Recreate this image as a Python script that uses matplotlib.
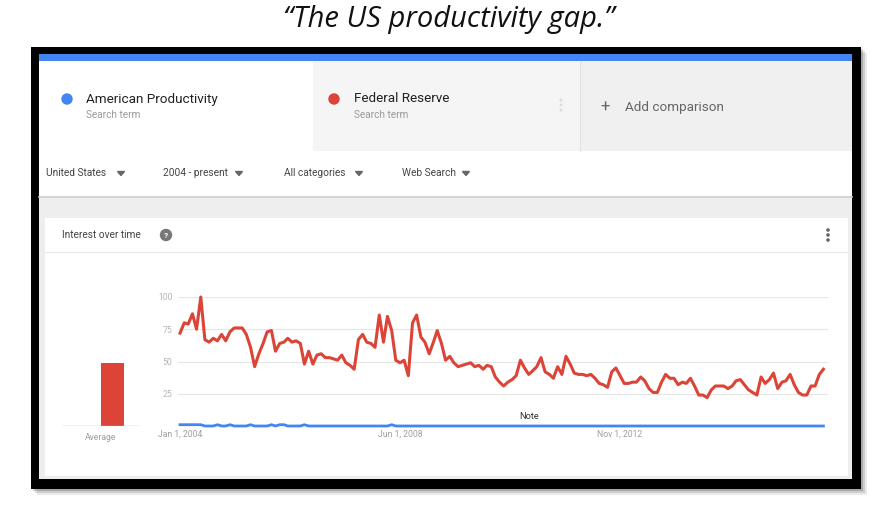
import matplotlib.pyplot as plt
import matplotlib.patches as patches
import pandas as pd

# ---- data (monthly index 2004-01 .. 2016-12) ----
months = pd.date_range("2004-01-01", periods=156, freq="MS")

federal_reserve = [
    72, 80, 79, 87, 75, 100, 67, 65, 68, 66, 71, 66,
    73, 76, 76, 76, 71, 61, 46, 56, 64, 73, 74, 58,
    64, 65, 68, 65, 66, 64, 48, 58, 48, 55, 56, 53,
    53, 52, 51, 55, 49, 47, 44, 67, 71, 65, 64, 61,
    86, 65, 85, 74, 51, 49, 51, 39, 80, 86, 69, 65,
    56, 65, 74, 64, 51, 54, 49, 46, 47, 48, 49, 46,
    47, 44, 47, 46, 38, 34, 31, 34, 36, 39, 51, 45,
    40, 43, 46, 53, 42, 40, 37, 46, 40, 54, 48, 41,
    40, 40, 39, 40, 37, 33, 32, 30, 42, 45, 39, 33,
    33, 34, 34, 38, 35, 29, 26, 26, 34, 40, 37, 37,
    32, 34, 33, 37, 31, 24, 24, 22, 28, 31, 31, 31,
    29, 31, 35, 36, 32, 28, 26, 24, 38, 33, 36, 41,
    29, 34, 35, 40, 32, 26, 24, 24, 31, 31, 40, 44,
]

american_productivity = [
    1, 1, 1, 1, 1, 1, 0, 0, 0, 1, 0, 0,
    1, 0, 0, 0, 0, 1, 0, 0, 0, 0, 1, 0,
    1, 1, 0, 0, 0, 0, 1, 0, 0, 0, 0, 0,
    0, 0, 0, 0, 0, 0, 0, 0, 0, 0, 0, 0,
    0, 0, 0, 1, 0, 0, 0, 0, 0, 0, 0, 0,
    0, 0, 0, 0, 0, 0, 0, 0, 0, 0, 0, 0,
    0, 0, 0, 0, 0, 0, 0, 0, 0, 0, 0, 0,
    0, 0, 0, 0, 0, 0, 0, 0, 0, 0, 0, 0,
    0, 0, 0, 0, 0, 0, 0, 0, 0, 0, 0, 0,
    0, 0, 0, 0, 0, 0, 0, 0, 0, 0, 0, 0,
    0, 0, 0, 0, 0, 0, 0, 0, 0, 0, 0, 0,
    0, 0, 0, 0, 0, 0, 0, 0, 0, 0, 0, 0,
    0, 0, 0, 0, 0, 0, 0, 0, 0, 0, 0, 0,
]

average_labels = ["American Productivity", "Federal Reserve"]
average_values = [0, 49]

tick_dates = ["2004-01-01", "2008-06-01", "2012-11-01"]
tick_labels = ["Jan 1, 2004", "Jun 1, 2008", "Nov 1, 2012"]

RED = "#db4437"
BLUE = "#4285f4"
GRID = "#e6e6e6"
TICK = "#9e9e9e"

plt.rcParams["font.family"] = ["Roboto", "DejaVu Sans"]

W, H = 895, 508
fig = plt.figure(figsize=(W / 100, H / 100), dpi=100)
fig.patch.set_facecolor("white")


def px_axes(x0, y0, x1, y1):
    # axes from pixel box (top-left origin)
    return fig.add_axes([x0 / W, 1 - y1 / H, (x1 - x0) / W, (y1 - y0) / H])


# ---- background layer in pixel coordinates ----
bg = fig.add_axes([0, 0, 1, 1])
bg.set_xlim(0, W)
bg.set_ylim(H, 0)
bg.axis("off")


def rect(x0, y0, x1, y1, color, **kw):
    bg.add_patch(patches.Rectangle((x0, y0), x1 - x0, y1 - y0, facecolor=color,
                                   edgecolor="none", **kw))


# soft shadow + black frame
for off, a in [(6, 0.08), (4, 0.12), (2, 0.18)]:
    rect(31 + off, 47 + off, 861 + off, 489 + off, "black", alpha=a)
rect(31, 47, 861, 489, "black")
rect(39, 54, 852, 479, "#eeeeee")

# blue top bar
rect(39, 54, 852, 61, BLUE)
# header panels
rect(39, 61, 313, 151, "white")
rect(313, 61, 580, 151, "#f5f5f5")
rect(580, 61, 852, 151, "#f0f0f0")
bg.plot([580, 580], [61, 151], color="#e2e2e2", lw=0.8)
# filter row
rect(39, 151, 852, 196, "white")
bg.plot([39, 852], [196.5, 196.5], color="#cfcfcf", lw=1.2)
# card
rect(45, 218, 848, 476, "white")
bg.plot([45, 848], [252, 252], color="#e8e8e8", lw=0.8)

# title
bg.text(449, 20, "\u201cThe US productivity gap.\u201d", ha="center", va="center",
        fontsize=21, style="italic", family=["Open Sans", "DejaVu Sans"], color="#111111")

# search terms
bg.add_patch(patches.Circle((67, 99), 5, color=BLUE))
bg.text(86, 99, "American Productivity", fontsize=9.7, va="center", color="#222222")
bg.text(86, 115, "Search term", fontsize=7.2, va="center", color="#9a9a9a")
bg.add_patch(patches.Circle((334, 99), 5, color=RED))
bg.text(354, 99, "Federal Reserve", fontsize=9.7, va="center", color="#222222")
bg.text(354, 115, "Search term", fontsize=7.2, va="center", color="#9a9a9a")
for yy in (100, 105, 110):
    bg.add_patch(patches.Circle((561, yy), 0.8, color="#dddddd"))
bg.text(605, 107, "+", fontsize=12, va="center", ha="center", color="#666666")
bg.text(625, 108, "Add comparison", fontsize=9.7, va="center", color="#666666")

# filter row
filters = [("United States", 46, 121), ("2004 - present", 163, 239),
           ("All categories", 284, 359), ("Web Search", 402, 466)]
for label, fx, ax_ in filters:
    bg.text(fx, 173, label, fontsize=7.3, va="center", color="#444444")
    bg.add_patch(patches.Polygon([[ax_ - 3.5, 171.5], [ax_ + 3.5, 171.5], [ax_, 175.5]],
                                 closed=True, color="#666666"))

# card header
bg.text(62, 235, "Interest over time", fontsize=7.3, va="center", color="#444444")
bg.add_patch(patches.Circle((166, 235), 5.5, color="#777777"))
bg.text(166, 235.5, "?", fontsize=6, ha="center", va="center", color="white", weight="bold")
for yy in (230, 235, 240):
    bg.add_patch(patches.Circle((828, yy), 1.1, color="#666666"))

# ---- average bar ----
avg = px_axes(62, 297, 140, 426)
avg.bar([0.45, 0.647], average_values, width=0.295, color=[BLUE, RED])
avg.set_xlim(0, 1)
avg.set_ylim(0, 100)
avg.axhline(0, color="#bdbdbd", lw=1)
avg.axis("off")
avg.text(0.5, -0.055, "Average", transform=avg.transAxes, ha="center", va="top",
         fontsize=6.2, color=TICK)

# ---- interest over time line chart ----
ax = px_axes(178, 297, 828, 426)
ax.set_facecolor("none")
ax.plot(months, federal_reserve, color=RED, lw=2.2, clip_on=False, zorder=3)
ax.plot(months, american_productivity, color=BLUE, lw=2.0, clip_on=False, zorder=4)
ax.set_ylim(0, 100)
ax.set_xlim(months[0] - pd.Timedelta(days=15), months[0] + pd.Timedelta(days=30.44 * 156.1))
ax.set_yticks([25, 50, 75, 100])
ax.yaxis.grid(True, color=GRID, lw=0.8)
ax.set_axisbelow(True)
ax.tick_params(axis="y", length=0, labelsize=6.2, labelcolor="#b5b5b5", pad=4)
ax.set_xticks(pd.to_datetime(tick_dates))
ax.set_xticklabels(tick_labels)
ax.tick_params(axis="x", length=0, labelsize=6.2, labelcolor=TICK, pad=3)
for s in ax.spines.values():
    s.set_visible(False)
ax.text(pd.Timestamp("2011-01-01"), 3.5, "Note", fontsize=6.7, ha="center",
        va="bottom", color="#333333")

fig.savefig("out.png", dpi=100)
